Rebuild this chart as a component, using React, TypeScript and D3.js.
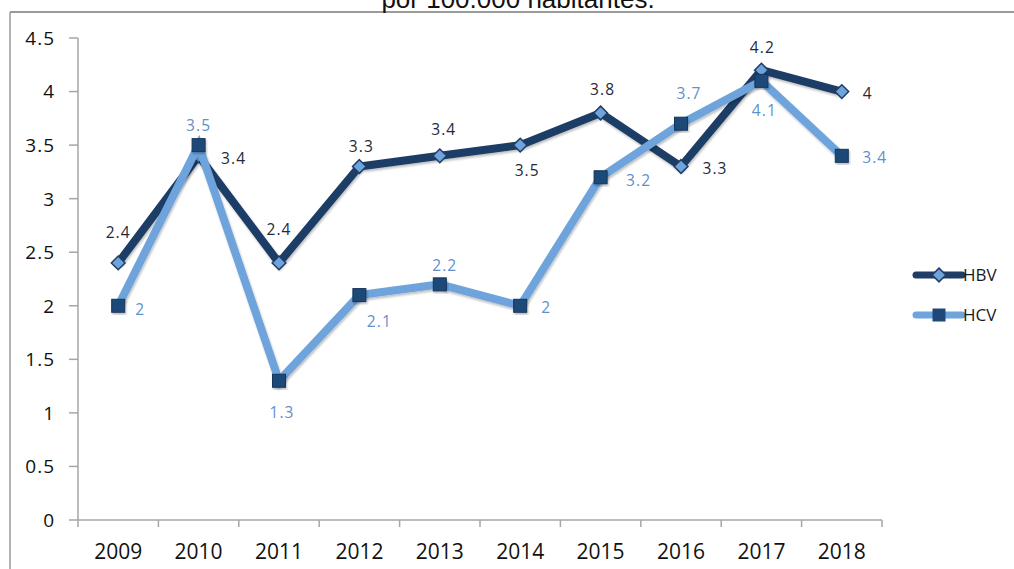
import React from "react";
import * as d3 from "d3";

const years = ["2009", "2010", "2011", "2012", "2013", "2014", "2015", "2016", "2017", "2018"];
const hbv = [2.4, 3.4, 2.4, 3.3, 3.4, 3.5, 3.8, 3.3, 4.2, 4.0];
const hcv = [2.0, 3.5, 1.3, 2.1, 2.2, 2.0, 3.2, 3.7, 4.1, 3.4];
const yTicks = [0, 0.5, 1, 1.5, 2, 2.5, 3, 3.5, 4, 4.5];
const seriesNames = ["HBV", "HCV"];
const titleText = "por 100.000 habitantes.";

// label offsets (layout only): [dx, dy] of label centre relative to point
const hbvLabelOffsets: [number, number][] = [
  [0, -31], [35, 3], [0, -34], [2, -20], [4, -26], [7, 25], [2, -24], [34, 2], [1, -23], [26, 2],
];
const hcvLabelOffsets: [number, number][] = [
  [22, 4], [0, -20], [3, 32], [20, 26], [5, -19], [26, 2], [38, 3], [8, -30], [3, 30], [33, 2],
];

const DARK = "#1f3d66";
const LIGHT = "#6ea3dc";
const SQUARE = "#1d4878";
const FONT = "'Open Sans', sans-serif";

export default function App() {
  const W = 1014, H = 569;
  const x = d3.scaleBand<string>().domain(years).range([78, 882]);
  const y = d3.scaleLinear().domain([0, 4.5]).range([520, 38]);
  const cx = (yr: string) => (x(yr) as number) + x.bandwidth() / 2;
  const line = d3.line<number>().x((_, i) => cx(years[i])).y((v) => y(v));
  const diamond = d3.symbol().type(d3.symbolDiamond2).size(120);
  const bounds = [...years.map((yr) => x(yr) as number), 882];

  return (
    <svg width={W} height={H} style={{ position: "absolute", left: 0, top: 0, background: "#fff" }}>
      <defs>
        <filter id="sh" x="-20%" y="-20%" width="140%" height="140%">
          <feDropShadow dx="1" dy="2" stdDeviation="1.2" floodColor="#000" floodOpacity="0.25" />
        </filter>
      </defs>
      {/* frame */}
      <line x1={10} y1={12} x2={1014} y2={12} stroke="#9a9a9a" strokeWidth={2} />
      <line x1={10} y1={12} x2={10} y2={569} stroke="#9a9a9a" strokeWidth={1.5} />
      <text x={518} y={8} textAnchor="middle" fontFamily="'Liberation Sans', Arial, sans-serif" fontSize={26} fill="#111">
        {titleText}
      </text>

      {/* y axis */}
      <line x1={78} y1={y(4.5)} x2={78} y2={y(0)} stroke="#a6a6a6" strokeWidth={1.5} />
      {yTicks.map((t) => (
        <g key={t}>
          <line x1={69} x2={78} y1={y(t)} y2={y(t)} stroke="#a6a6a6" strokeWidth={1.5} />
          <text x={55} y={y(t)} dy="0.36em" textAnchor="end" fontFamily={FONT} fontSize={19} letterSpacing={1} fill="#111">
            {String(t)}
          </text>
        </g>
      ))}
      {/* x axis */}
      <line x1={78} y1={y(0)} x2={882} y2={y(0)} stroke="#a6a6a6" strokeWidth={1.5} />
      {bounds.map((b, i) => (
        <line key={i} x1={b} x2={b} y1={y(0)} y2={y(0) + 7} stroke="#a6a6a6" strokeWidth={1.5} />
      ))}
      {years.map((yr) => (
        <text key={yr} x={cx(yr)} y={559} textAnchor="middle" fontFamily={FONT} fontSize={21} fill="#111">
          {yr}
        </text>
      ))}

      {/* HBV */}
      <path d={line(hbv) || ""} fill="none" stroke={DARK} strokeWidth={8} strokeLinejoin="miter" filter="url(#sh)" />
      {hbv.map((v, i) => (
        <path key={i} d={diamond() || ""} transform={`translate(${cx(years[i])},${y(v)})`} fill={LIGHT} stroke={DARK} strokeWidth={1.5} />
      ))}
      {/* HCV */}
      <path d={line(hcv) || ""} fill="none" stroke={LIGHT} strokeWidth={8} strokeLinejoin="miter" filter="url(#sh)" />
      {hcv.map((v, i) => (
        <rect key={i} x={cx(years[i]) - 6.5} y={y(v) - 6.5} width={13} height={13} fill={SQUARE} stroke="#16365c" strokeWidth={1} filter="url(#sh)" />
      ))}

      {/* labels */}
      {hbv.map((v, i) => (
        <text key={"a" + i} x={cx(years[i]) + hbvLabelOffsets[i][0]} y={y(v) + hbvLabelOffsets[i][1]} dy="0.36em" textAnchor="middle" fontFamily={FONT} fontSize={15.5} letterSpacing={1.1} fill="#1e2a3c">
          {String(v)}
        </text>
      ))}
      {hcv.map((v, i) => (
        <text key={"b" + i} x={cx(years[i]) + hcvLabelOffsets[i][0]} y={y(v) + hcvLabelOffsets[i][1]} dy="0.36em" textAnchor="middle" fontFamily={FONT} fontSize={15.5} letterSpacing={1.1} fill="#5f8fcc">
          {String(v)}
        </text>
      ))}

      {/* legend */}
      {seriesNames.map((n, i) => {
        const ly = 275 + i * 40;
        return (
          <g key={n}>
            <line x1={916} x2={962} y1={ly} y2={ly} stroke={i === 0 ? DARK : LIGHT} strokeWidth={7} strokeLinecap="round" />
            {i === 0 ? (
              <path d={diamond() || ""} transform={`translate(939,${ly})`} fill={LIGHT} stroke={DARK} strokeWidth={1.5} />
            ) : (
              <rect x={932.5} y={ly - 6.5} width={13} height={13} fill={SQUARE} />
            )}
            <text x={963} y={ly} dy="0.36em" fontFamily={FONT} fontSize={17} fill="#1a1a1a">
              {n}
            </text>
          </g>
        );
      })}
    </svg>
  );
}
